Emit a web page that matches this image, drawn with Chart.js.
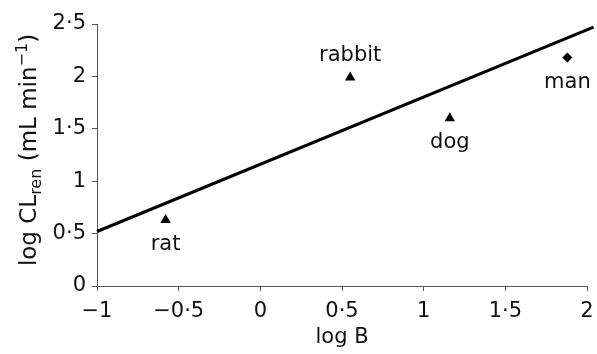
<!DOCTYPE html>
<html lang="en">
<head>
    <meta charset="UTF-8">
    <title>log CLren vs log B</title>
    <script src="https://cdn.jsdelivr.net/npm/chart.js"></script>
    <style>
        body { margin: 0; background: #fff; }
    </style>
</head>
<body>
    <canvas id="allometry-chart" width="597" height="354"></canvas>

    <script>
        // species points
        const species = ['rat', 'rabbit', 'dog', 'man'];
        const logB = [-0.58, 0.55, 1.16, 1.88];
        const logCLren = [0.63, 1.99, 1.60, 2.18];
        const markerStyle = ['triangle', 'triangle', 'triangle', 'rectRot'];
        const labelSide = ['below', 'above', 'below', 'below'];

        // fitted regression line end points
        const fitX = [-1, 2.04];
        const fitY = [0.52, 2.47];

        const FONT = 'DejaVu Sans';

        function fmtTick(v) {
            const r = Math.round(v * 10) / 10;
            return String(r).replace('-', '\u2212').replace('.', '\u00b7');
        }

        // species names next to each marker
        const speciesLabels = {
            id: 'speciesLabels',
            afterDatasetsDraw(chart) {
                const ctx = chart.ctx;
                const xs = chart.scales.x, ys = chart.scales.y;
                ctx.save();
                ctx.fillStyle = '#111';
                ctx.font = '21px "' + FONT + '"';
                ctx.textAlign = 'center';
                ctx.textBaseline = 'alphabetic';
                species.forEach((name, i) => {
                    const px = xs.getPixelForValue(logB[i]);
                    const py = ys.getPixelForValue(logCLren[i]);
                    const dy = labelSide[i] === 'above' ? -16 : 30;
                    ctx.fillText(name, px, py + dy);
                });
                ctx.restore();
            }
        };

        // y axis title with subscript and superscript
        const yTitle = {
            id: 'yTitle',
            afterDraw(chart) {
                const ctx = chart.ctx;
                const area = chart.chartArea;
                const parts = [
                    { t: 'log CL', s: 23, dy: 0 },
                    { t: 'ren', s: 16, dy: 5 },
                    { t: ' (mL min', s: 23, dy: 0 },
                    { t: '\u22121', s: 16, dy: -9 },
                    { t: ')', s: 23, dy: 0 }
                ];
                ctx.save();
                ctx.fillStyle = '#111';
                ctx.textBaseline = 'alphabetic';
                ctx.textAlign = 'left';
                let total = 0;
                parts.forEach(p => {
                    ctx.font = p.s + 'px "' + FONT + '"';
                    p.w = ctx.measureText(p.t).width;
                    total += p.w;
                });
                ctx.translate(36, (area.top + area.bottom) / 2 - 5);
                ctx.rotate(-Math.PI / 2);
                let x = -total / 2;
                parts.forEach(p => {
                    ctx.font = p.s + 'px "' + FONT + '"';
                    ctx.fillText(p.t, x, p.dy);
                    x += p.w;
                });
                ctx.restore();
            }
        };

        const ctx = document.getElementById('allometry-chart').getContext('2d');
        new Chart(ctx, {
            data: {
                datasets: [{
                    type: 'line',
                    data: fitX.map((x, i) => ({ x: x, y: fitY[i] })),
                    borderColor: '#000',
                    borderWidth: 3,
                    pointRadius: 0,
                    fill: false,
                    clip: false
                }, {
                    type: 'scatter',
                    data: logB.map((x, i) => ({ x: x, y: logCLren[i] })),
                    pointStyle: markerStyle,
                    pointRadius: [6, 6, 6, 5],
                    backgroundColor: '#000',
                    borderColor: '#000',
                    borderWidth: 0
                }]
            },
            options: {
                responsive: false,
                animation: false,
                layout: { padding: { top: 24, right: 10, left: 0, bottom: 0 } },
                plugins: {
                    legend: { display: false },
                    tooltip: { enabled: false }
                },
                scales: {
                    x: {
                        type: 'linear',
                        min: -1,
                        max: 2,
                        grid: { drawOnChartArea: false, tickLength: 5, color: '#555' },
                        border: { color: '#555', width: 1 },
                        ticks: {
                            stepSize: 0.5,
                            padding: 8,
                            color: '#111',
                            font: { family: FONT, size: 21 },
                            callback: fmtTick,
                            maxRotation: 0
                        },
                        title: {
                            display: true,
                            text: 'log B',
                            color: '#111',
                            font: { family: FONT, size: 21 },
                            padding: { top: 0, bottom: 4 }
                        },
                        afterFit(scale) {
                            scale.height = 68;
                            scale.paddingLeft = 0;
                            scale.paddingRight = 0;
                        }
                    },
                    y: {
                        type: 'linear',
                        min: 0,
                        max: 2.5,
                        grid: { drawOnChartArea: false, tickLength: 5, color: '#555' },
                        border: { color: '#555', width: 1 },
                        ticks: {
                            stepSize: 0.5,
                            padding: 6,
                            color: '#111',
                            font: { family: FONT, size: 21 },
                            callback: fmtTick
                        },
                        afterFit(scale) { scale.width = 97; }
                    }
                }
            },
            plugins: [speciesLabels, yTitle]
        });
    </script>
</body>
</html>
